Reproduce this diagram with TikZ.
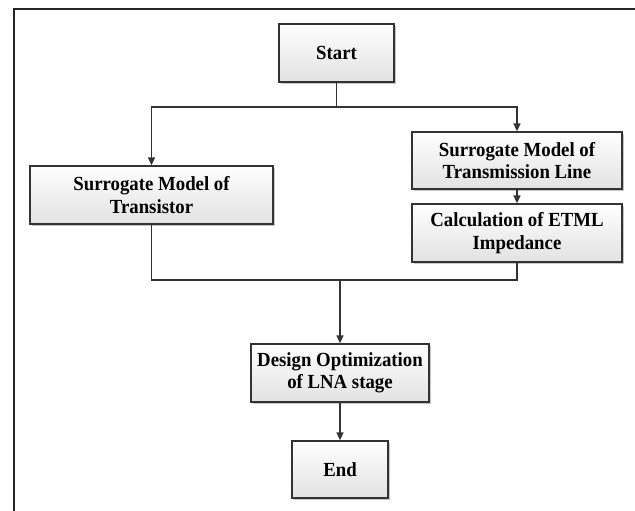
\documentclass[tikz,border=0pt]{standalone}
\usepackage{fontspec}
\setmainfont{Liberation Serif}[FakeStretch=0.94]
\usetikzlibrary{arrows.meta,shadows}
\definecolor{linegray}{HTML}{333333}
\definecolor{boxgray}{HTML}{E2E2E2}
\tikzset{
  stepbox/.style={draw=linegray, line width=1.3pt, top color=white, bottom color=boxgray,
    drop shadow={shadow xshift=2pt, shadow yshift=-2pt, fill=black!45},
    align=center, inner sep=2pt, font=\fontsize{20}{22.5}\selectfont\bfseries},
  flow/.style={draw=linegray, line width=1.4pt},
  flowarrow/.style={flow, -{Triangle[length=8pt,width=7pt]}}
}
\begin{document}
\begin{tikzpicture}[x=1pt, y=-1pt]
            \useasboundingbox (0, 0) rectangle (635, 511);
            \draw[line width=2pt, color=black!85] (14, 511) -- (14, 9) -- (635, 9);
            \node[stepbox, minimum width=115pt, minimum height=58pt] (start) at (336.5, 53) {Start};
            \node[stepbox, minimum width=243pt, minimum height=58pt] (transistor) at (151.5, 195) {Surrogate Model of\\Transistor};
            \node[stepbox, minimum width=210pt, minimum height=57pt] (tline) at (517, 160.5) {Surrogate Model of\\Transmission Line};
            \node[stepbox, minimum width=210pt, minimum height=58pt] (etml) at (517, 233) {Calculation of ETML\\Impedance};
            \node[stepbox, minimum width=178pt, minimum height=58pt] (design) at (340, 373) {Design Optimization\\of LNA stage};
            \node[stepbox, minimum width=96pt, minimum height=57pt] (end) at (340, 469.5) {End};
            \coordinate (split) at (336.5, 107);
            \coordinate (merge) at (340, 280);
            \draw[flow] (start.south) -- (split);
            \draw[flowarrow] (split) -| (transistor.north);
            \draw[flowarrow] (split) -| (tline.north);
            \draw[flowarrow] (tline) -- (etml);
            \draw[flow] (transistor.south) |- (merge) -| (etml.south);
            \draw[flowarrow] (merge) -- (design);
            \draw[flowarrow] (design) -- (end);
        \end{tikzpicture}
\end{document}
